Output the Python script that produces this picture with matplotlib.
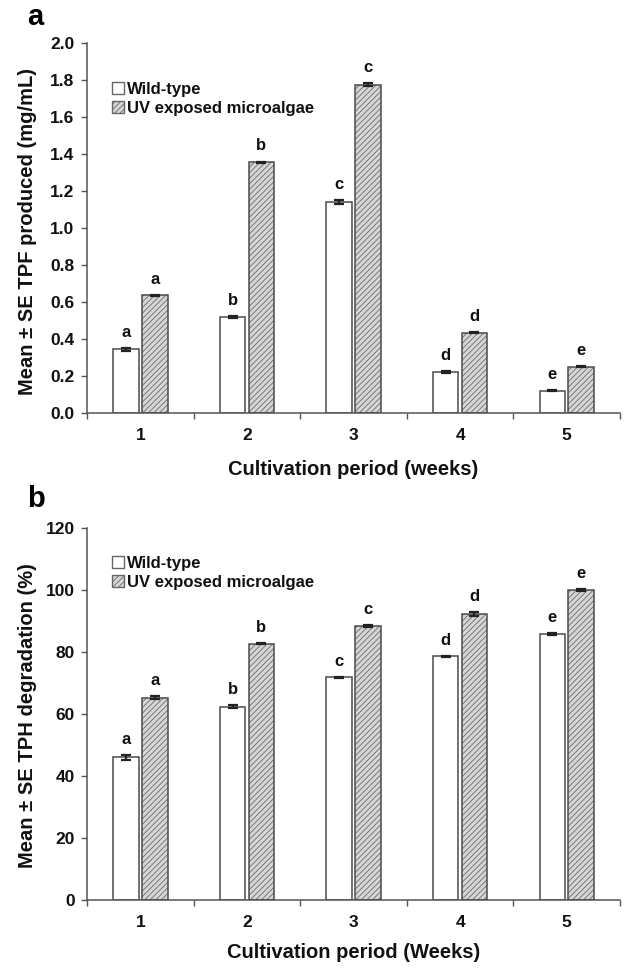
import numpy as np
import matplotlib
matplotlib.use("Agg")
import matplotlib.pyplot as plt
from matplotlib.patches import Patch

plt.rcParams['font.family'] = ['Liberation Sans', 'DejaVu Sans']
plt.rcParams['font.weight'] = 'bold'
plt.rcParams['hatch.linewidth'] = 0.6

# Data
weeks = ['1', '2', '3', '4', '5']
series_names = ['Wild-type', 'UV exposed microalgae']

tpf_wild = [0.345, 0.52, 1.14, 0.222, 0.12]
tpf_wild_se = [0.008, 0.004, 0.010, 0.004, 0.003]
tpf_uv = [0.636, 1.355, 1.775, 0.433, 0.25]
tpf_uv_se = [0.003, 0.004, 0.006, 0.003, 0.003]
tpf_wild_letters = ['a', 'b', 'c', 'd', 'e']
tpf_uv_letters = ['a', 'b', 'c', 'd', 'e']

tph_wild = [46.0, 62.4, 71.8, 78.6, 85.9]
tph_wild_se = [0.8, 0.5, 0.2, 0.2, 0.3]
tph_uv = [65.3, 82.7, 88.4, 92.3, 100.0]
tph_uv_se = [0.6, 0.2, 0.3, 0.6, 0.2]
tph_wild_letters = ['a', 'b', 'c', 'd', 'e']
tph_uv_letters = ['a', 'b', 'c', 'd', 'e']

EDGE = '#4a4a4a'
HATCH_FACE = '#d6d6d6'
HATCH_LINE = '#6a6a6a'
AXIS = '#555555'
TEXT = '#111111'
BAR_W = 0.24
OFFSET = 0.135


def draw_panel(ax, wild, wild_se, uv, uv_se, wl, ul, ymax, ystep, ylabel,
               xlabel, ylabel_y, xlabel_y, fmt):
    x = np.arange(1, len(weeks) + 1)
    # wild-type bars
    ax.bar(x - OFFSET, wild, BAR_W, color='white', edgecolor=EDGE,
           linewidth=1.1, zorder=2)
    # UV bars: hatched fill, then crisp outline on top
    ax.bar(x + OFFSET, uv, BAR_W, color=HATCH_FACE, edgecolor=HATCH_LINE,
           hatch='//////', linewidth=0, zorder=2)
    ax.bar(x + OFFSET, uv, BAR_W, color='none', edgecolor=EDGE,
           linewidth=1.1, zorder=3)
    ax.errorbar(x - OFFSET, wild, yerr=wild_se, fmt='none', ecolor='#222222',
                elinewidth=1.6, capsize=3.5, capthick=1.6, zorder=4)
    ax.errorbar(x + OFFSET, uv, yerr=uv_se, fmt='none', ecolor='#222222',
                elinewidth=1.6, capsize=3.5, capthick=1.6, zorder=4)
    for xi, v, e, t in zip(x - OFFSET, wild, wild_se, wl):
        ax.annotate(t, (xi, v + e), xytext=(0, 8), textcoords='offset points',
                    ha='center', va='baseline', fontsize=12,
                    fontweight='bold', color=TEXT)
    for xi, v, e, t in zip(x + OFFSET, uv, uv_se, ul):
        ax.annotate(t, (xi, v + e), xytext=(0, 8), textcoords='offset points',
                    ha='center', va='baseline', fontsize=12,
                    fontweight='bold', color=TEXT)

    ax.set_xlim(0.5, len(weeks) + 0.5)
    ax.set_ylim(0, ymax)
    ax.set_yticks(np.arange(0, ymax + ystep / 2, ystep))
    ax.yaxis.set_major_formatter(plt.FormatStrFormatter(fmt))
    ax.set_xticks(np.arange(0.5, len(weeks) + 1, 1.0))
    ax.set_xticklabels([])
    ax.set_xticks(x, minor=True)
    ax.set_xticklabels(weeks, minor=True)
    ax.tick_params(axis='x', which='major', direction='out', length=4,
                   width=1, color=AXIS)
    ax.tick_params(axis='x', which='minor', length=0, pad=11, labelsize=12.5)
    ax.tick_params(axis='y', direction='out', length=4, width=1, color=AXIS,
                   pad=5, labelsize=12.5)
    for lab in ax.get_xticklabels(minor=True) + ax.get_yticklabels():
        lab.set_fontweight('bold')
        lab.set_color(TEXT)
    for s in ['top', 'right']:
        ax.spines[s].set_visible(False)
    for s in ['left', 'bottom']:
        ax.spines[s].set_color(AXIS)
        ax.spines[s].set_linewidth(1.1)

    ax.set_ylabel(ylabel, fontsize=14.5, fontweight='bold', color=TEXT)
    ax.yaxis.set_label_coords(-0.112, ylabel_y)
    ax.yaxis.label.set_va('center')
    ax.set_xlabel(xlabel, fontsize=14.5, fontweight='bold', color=TEXT)
    ax.xaxis.set_label_coords(0.5, xlabel_y)
    ax.xaxis.label.set_va('center')


fig = plt.figure(figsize=(6.27, 9.72), dpi=100)
ax1 = fig.add_axes([0.1388, 0.5751, 0.850, 0.3807])
ax2 = fig.add_axes([0.1388, 0.0741, 0.850, 0.3827])

draw_panel(ax1, tpf_wild, tpf_wild_se, tpf_uv, tpf_uv_se,
           tpf_wild_letters, tpf_uv_letters, 2.0, 0.2,
           'Mean \u00b1 SE TPF produced (mg/mL)',
           'Cultivation period (weeks)', 0.49, -0.153, '%.1f')
draw_panel(ax2, tph_wild, tph_wild_se, tph_uv, tph_uv_se,
           tph_wild_letters, tph_uv_letters, 120, 20,
           'Mean \u00b1 SE TPH degradation (%)',
           'Cultivation period (Weeks)', 0.495, -0.14, '%d')

handles = [Patch(facecolor='white', edgecolor='#666666', linewidth=1),
           Patch(facecolor=HATCH_FACE, edgecolor='#666666', hatch='//////',
                 linewidth=1)]
for ax, anchor in [(ax1, (0.047, 0.895)), (ax2, (0.047, 0.925))]:
    leg = ax.legend(handles, series_names, loc='upper left',
                    bbox_to_anchor=anchor, frameon=False, borderpad=0,
                    borderaxespad=0, handlelength=0.7, handleheight=0.7,
                    handletextpad=0.2, labelspacing=0.25,
                    prop={'weight': 'bold', 'size': 12})
    for t in leg.get_texts():
        t.set_color(TEXT)

fig.text(0.057, 0.974, 'a', fontsize=21, fontweight='bold', ha='center',
         va='baseline')
fig.text(0.057, 0.478, 'b', fontsize=21, fontweight='bold', ha='center',
         va='baseline')

fig.savefig('out.png', dpi=100)
